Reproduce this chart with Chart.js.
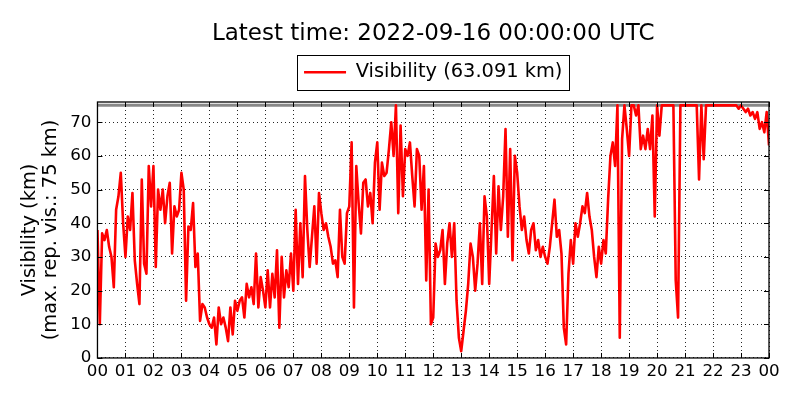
<!DOCTYPE html>
<html>
<head>
<meta charset="utf-8">
<script src="https://cdn.jsdelivr.net/npm/chart.js@4.4.0/dist/chart.umd.min.js"></script>
<style>
  html, body { margin: 0; padding: 0; background: #fff; }
  #wrap { width: 800px; height: 400px; }
</style>
</head>
<body>
<div id="wrap"><canvas id="visChart" width="800" height="400"></canvas></div>
<script>
// one reading every 5 minutes, 00:00 to 24:00 UTC
const stepMinutes = 5;
const maxReportedVis = 75;

const hourTicks = ["00", "01", "02", "03", "04", "05", "06", "07", "08", "09", "10", "11",
                   "12", "13", "14", "15", "16", "17", "18", "19", "20", "21", "22", "23", "00"];

const visibility = [
    38, 10, 37, 35, 38, 33, 30, 21, 44, 48, 55, 40,
    30, 42, 38, 49, 29, 22, 16, 53, 28, 25, 57, 45,
    57, 27, 50, 44, 50, 40, 48, 52, 31, 45, 42, 44,
    55, 50, 17, 39, 38, 46, 27, 31, 11, 16, 15, 12,
    10, 9, 12, 4, 15, 10, 12, 9, 5, 15, 7, 17,
    14, 17, 18, 12, 22, 18, 21, 16, 31, 15, 24, 20,
    15, 26, 15, 25, 18, 32, 9, 30, 18, 26, 21, 31,
    20, 44, 22, 40, 24, 54, 38, 27, 36, 45, 28, 49,
    43, 38, 40, 36, 33, 28, 29, 24, 44, 30, 28, 43,
    45, 64, 15, 57, 46, 37, 52, 53, 45, 49, 40, 58,
    64, 44, 58, 54, 55, 62, 70, 60, 75, 43, 69, 48,
    62, 60, 64, 54, 45, 62, 60, 44, 57, 23, 50, 10,
    12, 34, 30, 32, 38, 22, 34, 40, 30, 40, 17, 6,
    2, 8, 14, 22, 34, 30, 20, 28, 40, 22, 48, 42,
    22, 38, 54, 31, 51, 38, 48, 68, 36, 62, 29, 60,
    55, 45, 38, 42, 35, 31, 38, 40, 32, 35, 30, 33,
    30, 28, 33, 40, 47, 36, 38, 31, 9, 4, 25, 35,
    28, 40, 36, 40, 45, 43, 49, 42, 38, 30, 24, 33,
    28, 35, 31, 47, 60, 64, 57, 75, 6, 65, 75, 68,
    60, 75, 75, 72, 75, 62, 66, 62, 68, 62, 72, 42,
    75, 66, 75, 75, 75, 75, 75, 75, 23, 12, 75, 75,
    75, 75, 75, 75, 75, 75, 53, 75, 59, 75, 75, 75,
    75, 75, 75, 75, 75, 75, 75, 75, 75, 75, 75, 74,
    75, 74, 73, 74, 72, 73, 71, 73, 68, 70, 67, 73,
    63.091
];

const latestVis = visibility[visibility.length - 1];

Chart.defaults.font.family = "'DejaVu Sans', sans-serif";
Chart.defaults.color = "#000";

// matplotlib-ish frame: full box and inward ticks on all four sides,
// plus a boxed legend
const framePlugin = {
    id: "frame",
    afterLayout(chart) {
        // pull the legend up so it sits clear of the plot like the original
        chart.legend.top -= 10;
        chart.legend.bottom -= 10;
    },
    afterDraw(chart) {
        const { ctx, chartArea: a, scales } = chart;
        const tl = 5;
        ctx.save();
        ctx.strokeStyle = "#000";
        ctx.lineWidth = 1;
        ctx.setLineDash([]);
        ctx.beginPath();
        scales.x.ticks.forEach(t => {
            const px = Math.round(scales.x.getPixelForValue(t.value)) + 0.5;
            ctx.moveTo(px, a.bottom); ctx.lineTo(px, a.bottom - tl);
            ctx.moveTo(px, a.top); ctx.lineTo(px, a.top + tl);
        });
        scales.y.ticks.forEach(t => {
            const py = Math.round(scales.y.getPixelForValue(t.value)) + 0.5;
            ctx.moveTo(a.left, py); ctx.lineTo(a.left + tl, py);
            ctx.moveTo(a.right, py); ctx.lineTo(a.right - tl, py);
        });
        ctx.stroke();
        ctx.lineWidth = 1.3;
        ctx.strokeRect(a.left, a.top, a.right - a.left, a.bottom - a.top);

        // legend frame
        const lg = chart.legend;
        const hb = lg.legendHitBoxes[0];
        const fs = lg.options.labels.font.size;
        const cy = lg.top + lg.options.labels.padding + fs / 2;
        ctx.lineWidth = 1;
        ctx.strokeRect(Math.round(hb.left - 7) + 0.5, Math.round(cy - 17.5) + 0.5, Math.round(hb.width + 14), 35);
        ctx.restore();
    }
};

const ctx = document.getElementById("visChart").getContext("2d");

new Chart(ctx, {
    type: "line",
    plugins: [framePlugin],
    data: {
        datasets: [
            {
                label: "Visibility (" + latestVis.toFixed(3) + " km)",
                data: visibility.map((v, i) => ({ x: i * stepMinutes, y: v })),
                borderColor: "#ff0000",
                backgroundColor: "#ff0000",
                borderWidth: 2.6,
                borderJoinStyle: "round",
                pointRadius: 0,
                tension: 0,
                order: 1
            },
            {
                label: "max",
                data: [{ x: 0, y: maxReportedVis }, { x: (hourTicks.length - 1) * 60, y: maxReportedVis }],
                borderColor: "#888888",
                borderWidth: 3,
                pointRadius: 0,
                order: 2
            }
        ]
    },
    options: {
        responsive: false,
        animation: false,
        layout: {
            padding: { left: 16, right: 31, top: 0, bottom: 14 }
        },
        plugins: {
            tooltip: { enabled: false },
            title: {
                display: true,
                fullSize: false,
                text: "Latest time: 2022-09-16 00:00:00 UTC",
                font: { size: 23, weight: "normal" },
                padding: { top: 20, bottom: 15 }
            },
            legend: {
                display: true,
                fullSize: false,
                labels: {
                    filter: item => item.datasetIndex === 0,
                    usePointStyle: true,
                    pointStyle: "line",
                    pointStyleWidth: 42,
                    padding: 10,
                    font: { size: 19.4 }
                }
            }
        },
        scales: {
            x: {
                type: "linear",
                min: 0,
                max: (hourTicks.length - 1) * 60,
                grid: { color: "rgba(0,0,0,0.85)", lineWidth: 1, drawTicks: false },
                border: { display: false, dash: [1, 3] },
                ticks: {
                    stepSize: 60,
                    maxTicksLimit: 30,
                    autoSkip: false,
                    maxRotation: 0,
                    padding: 4,
                    font: { size: 16.7 },
                    callback: v => hourTicks[v / 60]
                }
            },
            y: {
                min: 0,
                max: 76,
                grid: { color: "rgba(0,0,0,0.85)", lineWidth: 1, drawTicks: false },
                border: { display: false, dash: [1, 3] },
                ticks: {
                    stepSize: 10,
                    includeBounds: false,
                    padding: 6,
                    font: { size: 16.7 }
                },
                title: {
                    display: true,
                    text: ["Visibility (km)", "(max. rep. vis.: " + maxReportedVis + " km)"],
                    font: { size: 19.4, lineHeight: 1.05 },
                    padding: { top: 4, bottom: 3.5 }
                }
            }
        }
    }
});
</script>
</body>
</html>
